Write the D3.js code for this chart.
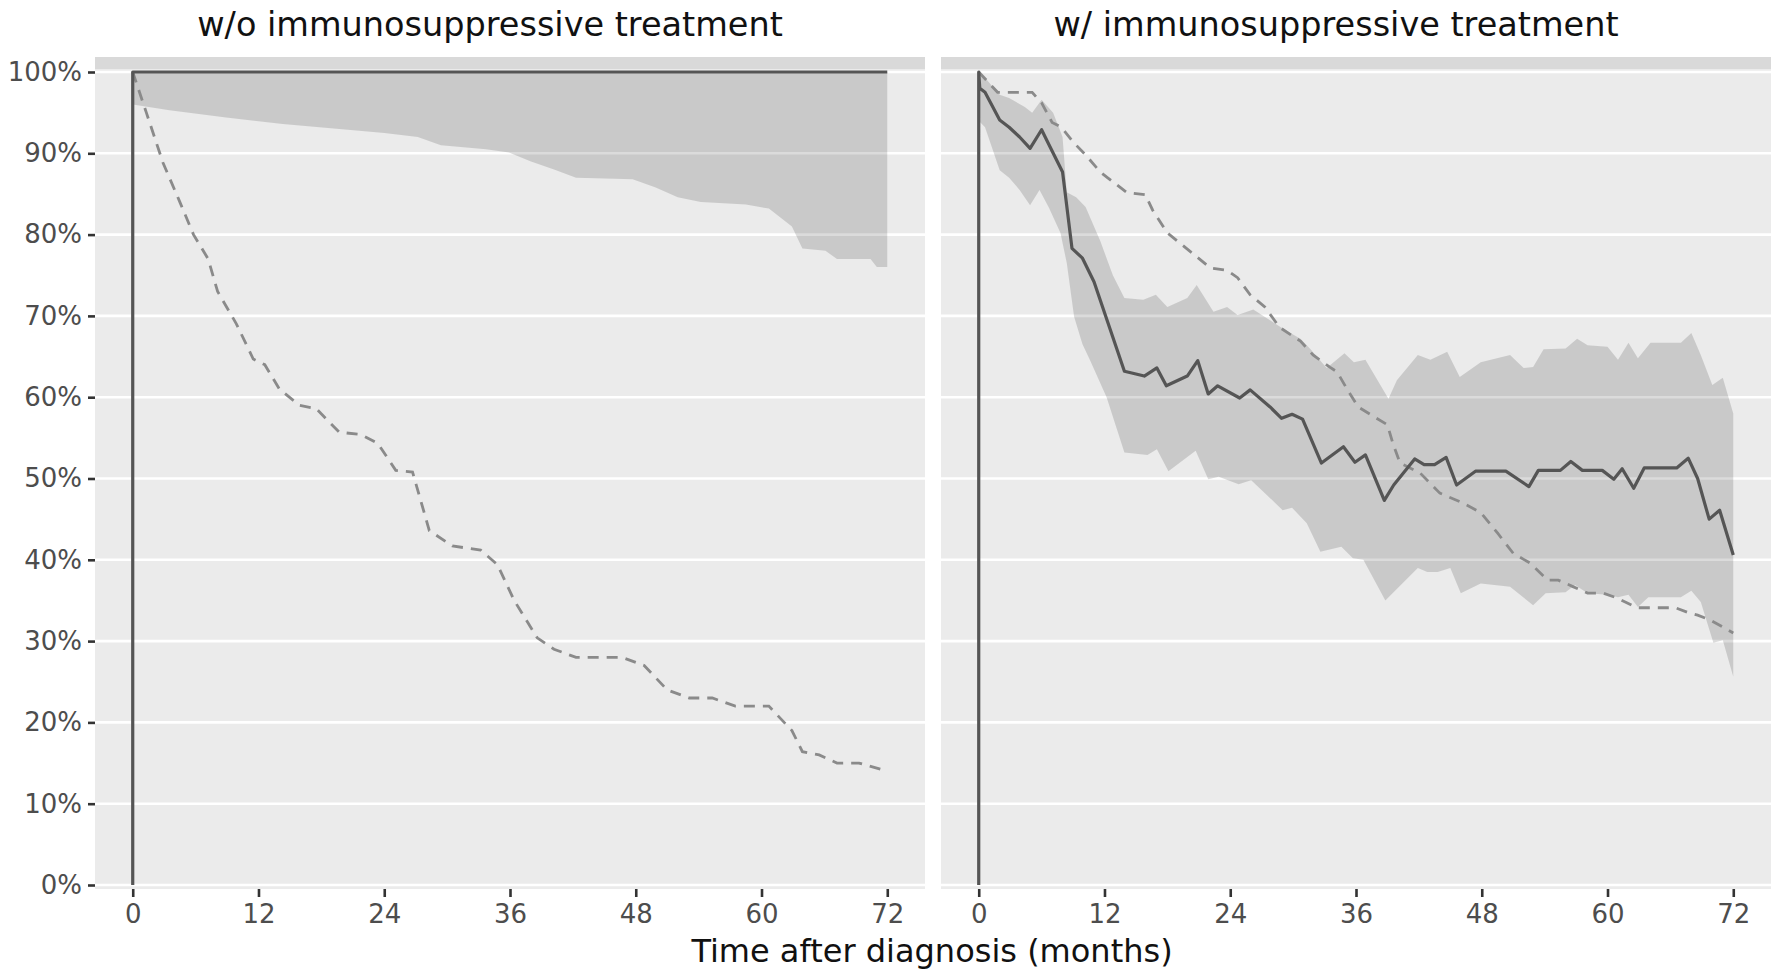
<!DOCTYPE html>
<html>
<head>
<meta charset="utf-8">
<script src="https://cdn.jsdelivr.net/npm/d3@7"></script>
<style>
  body { margin: 0; background: #fff; }
  text { font-family: "DejaVu Sans", sans-serif; }
</style>
</head>
<body>
<svg id="chart" width="1772" height="977"></svg>
<script>
const panelTitles = ['w/o immunosuppressive treatment', 'w/ immunosuppressive treatment'];
const xTitle = 'Time after diagnosis (months)';
const xTicks = [0, 12, 24, 36, 48, 60, 72];
const yTicks = [0, 0.1, 0.2, 0.3, 0.4, 0.5, 0.6, 0.7, 0.8, 0.9, 1];

// [month, percent]
const woSolid = [[0, 0], [0, 100], [72, 100]];
const woBandUpper = [[0, 100], [72, 100]];
const woBandLower = [[0, 96], [3.5, 95.3], [8.9, 94.4], [14.3, 93.6], [19.7, 93], [24, 92.5], [27.2, 92],
  [29.4, 91], [33.7, 90.5], [35.9, 90.1], [38, 89], [40.2, 88], [42.3, 87], [47.7, 86.8], [49.9, 85.8],
  [52, 84.6], [54.2, 84], [58.5, 83.7], [60.7, 83.2], [62.9, 81], [63.9, 78.3], [66.1, 78], [67.2, 77],
  [70.4, 77], [71, 76], [72, 76]];
const woDashed = [[0, 100], [1.3, 95], [2.9, 88.8], [4.5, 84], [5.8, 80], [7.2, 77], [8.1, 73], [9.9, 69],
  [11.5, 64.7], [12.6, 64], [14, 61], [15.9, 59], [17.5, 58.6], [19.7, 55.7], [21.8, 55.4], [23.4, 54.3],
  [25.1, 51], [26.7, 50.8], [28.3, 43.6], [30.5, 41.7], [33.2, 41.2], [34.8, 39.4], [36.4, 35], [38.6, 30.4],
  [40.2, 29], [42.3, 28], [46.7, 28], [48.8, 27], [51, 24], [53.1, 23], [55.3, 23], [57.5, 22], [60.7, 22],
  [62.9, 19], [63.9, 16.4], [65.5, 16], [67.2, 15], [69.3, 15], [72, 14]];

const wSolid = [[0, 0], [0, 100], [0.1, 98], [0.6, 97.5], [2.0, 94.1], [2.9, 93.2], [3.9, 92], [4.9, 90.6],
  [6.0, 92.9], [6.8, 90.8], [8.0, 87.7], [8.9, 78.3], [9.9, 77.1], [11.0, 74.2], [13.9, 63.2], [15.8, 62.6],
  [17.0, 63.6], [17.9, 61.4], [19.9, 62.6], [20.9, 64.5], [21.9, 60.4], [22.8, 61.4], [24.9, 59.9],
  [25.9, 60.9], [27.8, 58.8], [28.9, 57.4], [29.9, 57.9], [30.9, 57.3], [32.7, 51.9], [34.8, 53.9],
  [35.9, 52], [36.9, 52.9], [38.7, 47.3], [39.6, 49.2], [41.6, 52.4], [42.5, 51.7], [43.5, 51.7],
  [44.6, 52.6], [45.6, 49.2], [47.4, 50.9], [50.3, 50.9], [52.5, 49], [53.4, 51], [55.5, 51], [56.5, 52.1],
  [57.6, 51], [59.5, 51], [60.6, 49.9], [61.4, 51.2], [62.5, 48.8], [63.5, 51.3], [66.6, 51.3], [67.7, 52.5],
  [68.6, 50], [69.7, 45], [70.7, 46.1], [72, 40.6]];
const wDashed = [[0, 100], [1.8, 97.5], [5.1, 97.5], [6.0, 96.2], [7.0, 93.8], [7.9, 93.2], [9.0, 91.4],
  [10.2, 89.8], [11.6, 87.7], [14.1, 85.2], [15.9, 84.9], [16.6, 83], [18.0, 80.2], [20.4, 77.7], [22.1, 75.9],
  [23.7, 75.6], [24.7, 74.7], [25.9, 72.6], [27.3, 71.1], [28.7, 68.6], [30.7, 66.9], [31.9, 65.2],
  [33.5, 63.7], [34.2, 63.1], [35.1, 61.1], [36.2, 58.8], [39.0, 56.6], [39.5, 54.4], [40.2, 51.9],
  [42.1, 50.7], [44.0, 48.2], [46.2, 47], [47.9, 45.8], [49.5, 43.3], [51.0, 40.8], [52.6, 39.6], [54.3, 37.5],
  [55.3, 37.5], [56.7, 36.7], [58.1, 35.9], [59.6, 35.9], [60.9, 35.3], [62.8, 34.1], [66.5, 34.1],
  [67.7, 33.5], [68.6, 33.2], [69.8, 32.6], [72, 31]];
const wBandUpper = [[0, 100], [0.6, 99.3], [2.0, 97.2], [2.9, 96.8], [4.4, 95.7], [5.1, 95], [6.0, 96.6],
  [7.1, 95], [8.0, 92], [8.4, 85.2], [9.3, 84.6], [10.2, 83.4], [11.6, 79.2], [12.8, 75], [13.9, 72.2],
  [15.7, 72], [16.9, 72.6], [18.0, 71.1], [19.9, 72.2], [20.8, 73.8], [22.4, 70.5], [23.7, 71.1], [24.7, 70.1],
  [26.2, 70.8], [29.2, 68.3], [30.7, 67.2], [31.6, 66], [33.2, 63.6], [34.9, 65.4], [35.8, 64.3], [36.9, 64.6],
  [39.1, 59.8], [39.9, 62.1], [41.9, 65.2], [43.1, 64.6], [44.7, 65.6], [45.9, 62.5], [47.9, 64.3],
  [50.7, 65.2], [52.0, 63.6], [52.9, 63.7], [53.9, 65.9], [56.0, 66], [57.1, 67.2], [58.1, 66.4], [60.0, 66.2],
  [61.0, 64.6], [62.0, 66.7], [62.9, 64.8], [64.1, 66.7], [67.0, 66.7], [68.0, 67.9], [68.9, 65.2],
  [70.0, 61.5], [71.0, 62.4], [72, 58]];
const wBandLower = [[0, 94], [0.6, 93.2], [2.0, 87.9], [2.9, 87], [3.9, 85.5], [4.9, 83.6], [5.8, 85.5],
  [6.7, 83.3], [7.8, 80.2], [8.4, 76.5], [9.1, 69.9], [9.9, 66.5], [10.6, 64.6], [12.2, 60], [13.9, 53.2],
  [16.1, 52.9], [17.0, 53.6], [18.1, 50.9], [20.7, 53.4], [21.9, 49.9], [22.9, 50.2], [24.8, 49.3],
  [26.0, 49.8], [29.0, 46.1], [29.9, 46.4], [31.3, 44.5], [32.6, 41], [34.6, 41.6], [35.7, 40.2], [36.7, 40],
  [38.8, 35], [39.8, 36.3], [41.9, 39], [42.8, 38.5], [43.8, 38.5], [45.0, 39], [46.0, 35.9], [47.9, 37.1],
  [50.7, 36.7], [52.9, 34.4], [54.1, 35.9], [56.0, 36], [56.9, 36.9], [58.1, 35.9], [60.0, 35.7],
  [61.0, 35.4], [62.0, 35.7], [62.9, 34.2], [63.9, 35.4], [67.0, 35.4], [68.0, 36.2], [68.9, 34.8],
  [70.1, 29.8], [71.0, 30.1], [72, 25.6]];

const panels = [
  { title: panelTitles[0], left: 95, solid: woSolid, dashed: woDashed, upper: woBandUpper, lower: woBandLower },
  { title: panelTitles[1], left: 941, solid: wSolid, dashed: wDashed, upper: wBandUpper, lower: wBandLower }
];

const svg = d3.select('#chart');
const panelW = 830;
const y = d3.scaleLinear().domain([0, 1]).range([885, 72]);
const panelTop = y(1) - 3, panelBottom = y(0) + 4;

panels.forEach((p) => {
  const x = d3.scaleLinear().domain([-3.6, 75.6]).range([p.left, p.left + panelW]);
  const g = svg.append('g');

  // strip + panel background
  g.append('rect').attr('x', p.left).attr('y', 57).attr('width', panelW).attr('height', panelTop - 57)
    .attr('fill', '#d9d9d9');
  g.append('rect').attr('x', p.left).attr('y', panelTop).attr('width', panelW)
    .attr('height', panelBottom - panelTop).attr('fill', '#ebebeb');

  g.selectAll('line.grid').data(yTicks).join('line')
    .attr('class', 'grid')
    .attr('x1', p.left).attr('x2', p.left + panelW)
    .attr('y1', (d) => y(d)).attr('y2', (d) => y(d))
    .attr('stroke', '#fff').attr('stroke-width', 2.6);

  const line = d3.line().x((d) => x(d[0])).y((d) => y(d[1] / 100));

  // confidence band: upper edge forward, lower edge back
  const ring = p.upper.concat(p.lower.slice().reverse());
  g.append('path').attr('d', line(ring) + 'Z')
    .attr('fill', '#000').attr('fill-opacity', 0.14).attr('stroke', 'none');

  g.append('path').attr('d', line(p.dashed))
    .attr('fill', 'none').attr('stroke', '#8a8a8a').attr('stroke-width', 2.8)
    .attr('stroke-dasharray', '11 8');

  g.append('path').attr('d', line(p.solid))
    .attr('fill', 'none').attr('stroke', '#555').attr('stroke-width', 3.2)
    .attr('stroke-linejoin', 'round');

  // x axis
  const xAxis = g.append('g').attr('transform', `translate(0,${panelBottom})`)
    .call(d3.axisBottom(x).tickValues(xTicks).tickSize(8).tickPadding(8));
  xAxis.select('.domain').remove();
  xAxis.selectAll('line').attr('stroke', '#333').attr('stroke-width', 2.6);
  xAxis.selectAll('text').attr('fill', '#4d4d4d').style('font-size', '26px');

  // title
  svg.append('text')
    .attr('x', p.left + panelW / 2 - 20).attr('y', 36)
    .attr('text-anchor', 'middle')
    .attr('fill', '#111')
    .style('font-size', '33.5px')
    .text(p.title);
});

// y axis on the left panel only
const yAxis = svg.append('g').attr('transform', `translate(${panels[0].left},0)`)
  .call(d3.axisLeft(y).tickValues(yTicks).tickFormat(d3.format('.0%')).tickSize(7).tickPadding(6));
yAxis.select('.domain').remove();
yAxis.selectAll('line').attr('stroke', '#333').attr('stroke-width', 2.6);
yAxis.selectAll('text').attr('fill', '#4d4d4d').style('font-size', '26px');

svg.append('text')
  .attr('x', 932).attr('y', 962)
  .attr('text-anchor', 'middle')
  .attr('fill', '#111')
  .style('font-size', '32px')
  .text(xTitle);
</script>
</body>
</html>
